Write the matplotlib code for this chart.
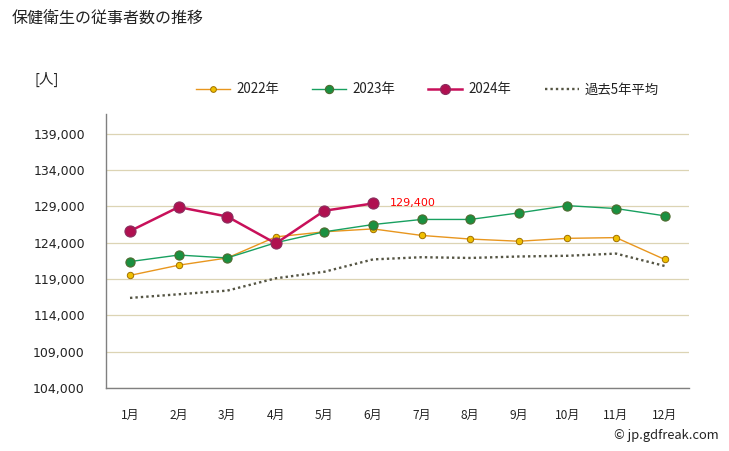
import matplotlib
matplotlib.use("Agg")
import matplotlib.pyplot as plt

months = ["1月", "2月", "3月", "4月", "5月", "6月", "7月", "8月", "9月", "10月", "11月", "12月"]
y2022 = [119500, 120900, 121900, 124800, 125500, 125900, 125000, 124500, 124200, 124600, 124700, 121700]
y2023 = [121400, 122300, 121900, 124000, 125500, 126500, 127200, 127200, 128100, 129100, 128700, 127700]
y2024 = [125600, 128900, 127600, 123900, 128400, 129400]
avg5 = [116400, 116900, 117400, 119100, 120000, 121700, 122000, 121900, 122100, 122200, 122500, 120800]
yticks = [104000, 109000, 114000, 119000, 124000, 129000, 134000, 139000]

JP = ["Noto Sans CJK JP", "DejaVu Sans"]
plt.rcParams["font.family"] = JP

fig = plt.figure(figsize=(7.29, 4.51), dpi=100)
ax = fig.add_axes([0.145, 0.1397, 0.800, 0.6073])

x = list(range(len(months)))
ax.plot(x, avg5, linestyle=(0, (1, 1.3)), color="#555544", lw=1.7, label="過去5年平均", zorder=2)
ax.plot(x, y2022, color="#e8961e", lw=1, marker="o", ms=4.6, mfc="#f0c000",
        mec="#a07000", mew=0.7, label="2022年", zorder=3)
ax.plot(x, y2023, color="#18a060", lw=1, marker="o", ms=6.6, mfc="#1a9040",
        mec="#4f6b2f", mew=0.8, label="2023年", zorder=4)
ax.plot(x[:len(y2024)], y2024, color="#c8105a", lw=1.8, marker="o", ms=8, mfc="#b01050",
        mec="#8a3060", mew=0.8, label="2024年", zorder=5)

ax.annotate(f"{y2024[-1]:,}", xy=(len(y2024) - 1, y2024[-1]), xytext=(12, 0),
            textcoords="offset points", color="red", fontsize=8, va="center",
            family="DejaVu Sans")

ax.set_xlim(-0.5, 11.5)
ax.set_ylim(104000, 141700)
ax.set_yticks(yticks)
ax.set_yticklabels([f"{v:,}" for v in yticks], fontsize=9, family="DejaVu Sans", color="#222222")
ax.set_xticks(x)
ax.set_xticklabels(months, fontsize=8.6, color="#222222")
ax.tick_params(axis="y", length=0, pad=15)
ax.tick_params(axis="x", length=0, pad=15)
ax.grid(axis="y", color="#dcd4b4", lw=0.9)
ax.set_axisbelow(True)
for s in ["top", "right"]:
    ax.spines[s].set_visible(False)
for s in ["left", "bottom"]:
    ax.spines[s].set_color("#808080")
    ax.spines[s].set_linewidth(1)

fig.text(12 / 729, 1 - 18 / 451, "保健衛生の従事者数の推移", fontsize=11.5, va="center", ha="left", color="#222222")
fig.text(34 / 729, 1 - 79.5 / 451, "[人]", fontsize=10.5, va="center", ha="left", color="#222222")
fig.text(719 / 729, 1 - 435 / 451, "© jp.gdfreak.com", fontsize=9.3, va="center", ha="right", color="#222222")

h, l = ax.get_legend_handles_labels()
order = [1, 2, 3, 0]
leg = fig.legend([h[i] for i in order], [l[i] for i in order], ncol=4, loc="center left",
                 bbox_to_anchor=(196 / 729, 1 - 89.5 / 451), frameon=False, fontsize=9.6,
                 borderpad=0, borderaxespad=0,
                 handlelength=2.55, handletextpad=0.45, columnspacing=2.5, markerscale=0.9)
for t in leg.get_texts():
    t.set_color("#222222")

fig.savefig("out.png", dpi=100)
